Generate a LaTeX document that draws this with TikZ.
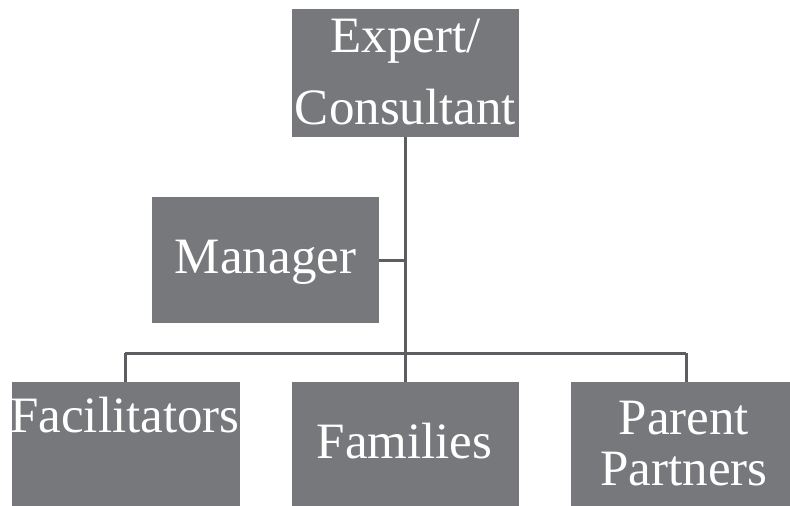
\documentclass[tikz,border=0pt]{standalone}
\usepackage{fontspec}
\setmainfont{Liberation Serif}
\definecolor{boxgray}{HTML}{77787B}
\definecolor{linegray}{HTML}{5C5D60}
\begin{document}
\begin{tikzpicture}[x=1pt,y=-1pt,
  box/.style={fill=boxgray,draw=none,inner sep=0pt,outer sep=0pt},
  lbl/.style={text=white,anchor=base,inner sep=0pt,font=\fontsize{51}{60}\selectfont},
  conn/.style={draw=linegray,line width=3pt}]
\useasboundingbox (0,0) rectangle (790,506);
% boxes
\node[box,minimum width=227pt,minimum height=128pt] (top) at (405.5,73) {};
\node[box,minimum width=227pt,minimum height=126pt] (mgr) at (265.5,260) {};
\node[box,minimum width=228pt,minimum height=124pt] (fac) at (126,444) {};
\node[box,minimum width=227pt,minimum height=124pt] (fam) at (405.5,444) {};
\node[box,minimum width=219pt,minimum height=124pt] (par) at (680.5,444) {};
% junctions
\coordinate (bus) at (405.5,353);
\coordinate (mj) at (405.5,260);
\coordinate (fdrop) at (125,353);
\coordinate (pdrop) at (686,353);
% connectors
\draw[conn] (top.south) -- (bus);
\draw[conn] (mgr.east) -- (mj);
\draw[conn] (fdrop) -- (pdrop);
\draw[conn] (bus) -- (fam.north);
\draw[conn] (fdrop) -- (fdrop |- fac.north);
\draw[conn] (pdrop) -- (pdrop |- par.north);
% labels
\node[lbl] (topA) at (405.5,52) {Expert/};
\node[lbl] (topB) at (405.5,124) {Consultant};
\node[lbl] (mgrA) at (265.5,273) {Manager};
\node[lbl] (facA) at (125,432) {Facilitators};
\node[lbl] (famA) at (404.5,458) {Families};
\node[lbl] (parA) at (684,434) {Parent};
\node[lbl] (parB) at (684,485) {Partners};
\end{tikzpicture}
\end{document}
